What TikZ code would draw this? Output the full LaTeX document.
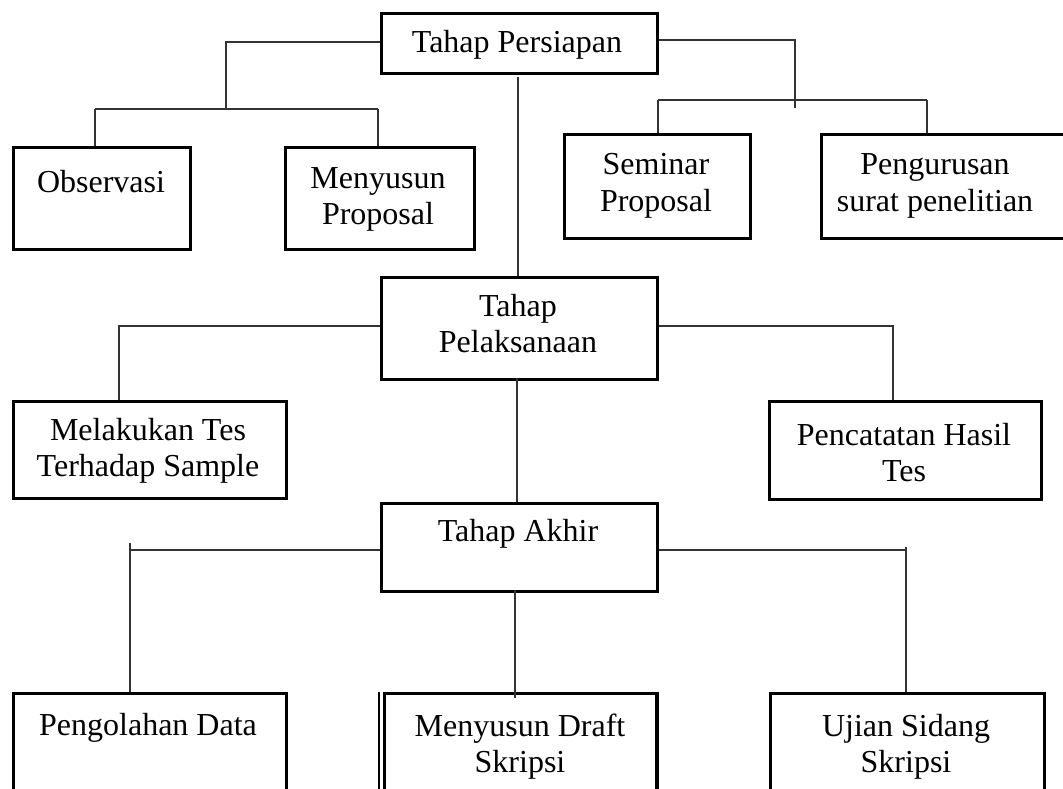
\documentclass[tikz,border=0pt]{standalone}
\usepackage{fontspec}
\setmainfont{Liberation Serif}
\begin{document}
\begin{tikzpicture}[x=1pt,y=-1pt,
  box/.style={draw=black, line width=2.6pt, inner sep=0pt, anchor=north west},
  txt/.style={align=center, inner sep=0pt, anchor=base, font=\fontsize{32}{36}\selectfont},
  conn/.style={draw=black!80, line width=1.1pt}]
\useasboundingbox (0,0) rectangle (1063,789);
\clip (0,0) rectangle (1063,789);
% boxes
\node[box, minimum width=276pt, minimum height=60pt]  (tp)  at (380,12)  {};
\node[box, minimum width=177pt, minimum height=102pt] (obs) at (12,146)  {};
\node[box, minimum width=189pt, minimum height=102pt] (mp)  at (284,146) {};
\node[box, minimum width=186pt, minimum height=104pt] (sp)  at (563,133) {};
\node[box, minimum width=250pt, minimum height=104pt] (ps)  at (820,133) {};
\node[box, minimum width=276pt, minimum height=102pt] (tpl) at (380,276) {};
\node[box, minimum width=273pt, minimum height=97pt]  (mts) at (12,400)  {};
\node[box, minimum width=272pt, minimum height=98pt]  (pht) at (768,400) {};
\node[box, minimum width=276pt, minimum height=88pt]  (ta)  at (380,502) {};
\node[box, minimum width=273pt, minimum height=150pt] (pd)  at (12,692)  {};
\node[box, minimum width=272pt, minimum height=150pt] (mds) at (383,692) {};
\node[box, minimum width=274pt, minimum height=150pt] (us)  at (769,692) {};
% extra borders of the draft box
\coordinate (mdsl) at (379,692);
\draw[black, line width=1.4pt] (mdsl) -- (mdsl |- mds.south);
\draw[black, line width=3.6pt] (mds.north east) -- (mds.south east);
% texts (base = baseline of the last line)
\node[txt] (ttp)  at (517,53)  {Tahap Persiapan};
\node[txt] (tobs) at (101,193) {Observasi};
\node[txt] (tmp)  at (378,224) {Menyusun\\Proposal};
\node[txt] (tsp)  at (656,211) {Seminar\\Proposal};
\node[txt] (tps)  at (935,211) {Pengurusan\\surat penelitian};
\node[txt] (ttpl) at (518,352) {Tahap\\Pelaksanaan};
\node[txt] (tmts) at (148,476) {Melakukan Tes\\Terhadap Sample};
\node[txt] (tpht) at (904,481) {Pencatatan Hasil\\Tes};
\node[txt] (tta)  at (518,541) {Tahap Akhir};
\node[txt] (tpd)  at (148,735) {Pengolahan Data};
\node[txt] (tmds) at (520,772) {Menyusun Draft\\Skripsi};
\node[txt] (tus)  at (906,772) {Ujian Sidang\\Skripsi};
% connectors: Tahap Persiapan
\coordinate (a1) at (226,109);
\coordinate (a2) at (95,109);
\coordinate (a3) at (378,109);
\draw[conn] (tp.west |- 0,42) -| (a1);
\draw[conn] (a2) -- (a3);
\draw[conn] (a2) -- (a2 |- obs.north);
\draw[conn] (a3) -- (a3 |- mp.north);
\coordinate (b1) at (795,108);
\coordinate (b2) at (658,100);
\coordinate (b3) at (927,100);
\draw[conn] (tp.east |- 0,40) -| (b1);
\draw[conn] (b2) -- (b3);
\draw[conn] (b2) -- (b2 |- sp.north);
\draw[conn] (b3) -- (b3 |- ps.north);
\coordinate (c0) at (518,77);
\draw[conn] (c0) -- (c0 |- tpl.north);
% Tahap Pelaksanaan
\coordinate (d1) at (119,326);
\coordinate (d2) at (893,326);
\draw[conn] (d1 -| tpl.west) -- (d1) -- (d1 |- mts.north);
\draw[conn] (d2 -| tpl.east) -- (d2) -- (d2 |- pht.north);
\coordinate (d3) at (517,378);
\draw[conn] (d3) -- (d3 |- ta.north);
% Tahap Akhir
\coordinate (e1) at (130,550);
\coordinate (e1t) at (130,543);
\draw[conn] (e1 -| ta.west) -- (e1);
\draw[conn] (e1t) -- (e1t |- pd.north);
\coordinate (e2) at (906,550);
\coordinate (e2t) at (906,547);
\draw[conn] (e2 -| ta.east) -- (e2);
\draw[conn] (e2t) -- (e2t |- us.north);
\coordinate (f0) at (515,590);
\coordinate (f1) at (515,698);
\draw[conn] (f0) -- (f1);
\end{tikzpicture}
\end{document}
